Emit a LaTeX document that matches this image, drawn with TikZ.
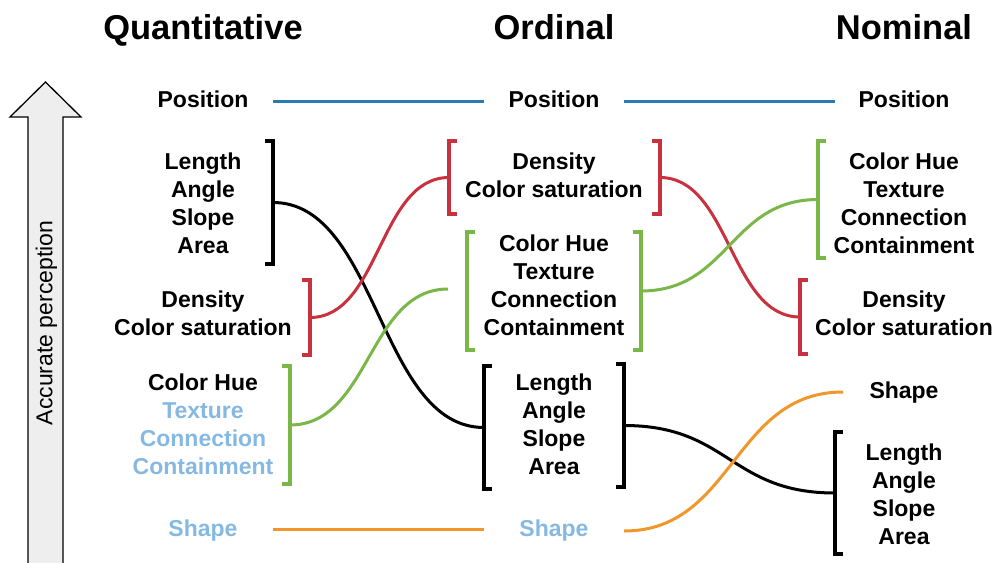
\documentclass[tikz,border=0pt]{standalone}
\usepackage{fontspec}
\setmainfont{Liberation Sans}
\definecolor{cred}{HTML}{C8313E}
\definecolor{cgreen}{HTML}{7AB648}
\definecolor{corange}{HTML}{F0962B}
\definecolor{cblue}{HTML}{2B7AB2}
\definecolor{clight}{HTML}{86B9E2}
\definecolor{arrfill}{HTML}{EEEEEE}
\newcommand\rbrk[4]{\draw[brk,#1] ({#2-8},#3) -- (#2,#3) -- (#2,#4) -- ({#2-8},#4);}
\newcommand\lbrk[4]{\draw[brk,#1] ({#2+8},#3) -- (#2,#3) -- (#2,#4) -- ({#2+8},#4);}
\tikzset{
  lbl/.style={font=\bfseries\fontsize{23}{28}\selectfont, align=center, inner sep=0pt, text depth=0pt},
  ttl/.style={font=\bfseries\fontsize{34.5}{40}\selectfont, inner sep=0pt, text depth=0pt},
  link/.style={line width=3pt},
  brk/.style={line width=3.2pt, line join=miter},
}
\begin{document}
\begin{tikzpicture}[x=1pt,y=-1pt]
\useasboundingbox (0,0) rectangle (998,562);

% arrow
\draw[line width=1.3pt, fill=arrfill] (28,575) -- (28,117) -- (10,117) -- (45.5,82) -- (81,117) -- (63,117) -- (63,575);
\node[rotate=90, font=\fontsize{23}{28}\selectfont, inner sep=0pt, text depth=0pt] (acc) at (44,323) {Accurate perception};

% titles
\node[ttl] (tq) at (203,27) {Quantitative};
\node[ttl] (to) at (554,27) {Ordinal};
\node[ttl] (tn) at (904,27) {Nominal};

% quantitative column
\node[lbl] (q0) at (203,99) {Position};
\node[lbl] (q1) at (203,203) {Length\\Angle\\Slope\\Area};
\node[lbl] (q2) at (203,313) {Density\\Color saturation};
\node[lbl] (q3) at (203,424) {Color Hue\\\textcolor{clight}{Texture}\\\textcolor{clight}{Connection}\\\textcolor{clight}{Containment}};
\node[lbl, text=clight] (q4) at (203,528) {Shape};

% ordinal column
\node[lbl] (o0) at (554,99) {Position};
\node[lbl] (o1) at (554,175) {Density\\Color saturation};
\node[lbl] (o2) at (554,285) {Color Hue\\Texture\\Connection\\Containment};
\node[lbl] (o3) at (554,424) {Length\\Angle\\Slope\\Area};
\node[lbl, text=clight] (o4) at (554,528) {Shape};

% nominal column
\node[lbl] (n0) at (904,99) {Position};
\node[lbl] (n1) at (904,203) {Color Hue\\Texture\\Connection\\Containment};
\node[lbl] (n2) at (904,313) {Density\\Color saturation};
\node[lbl] (n3) at (904,390) {Shape};
\node[lbl] (n4) at (904,494) {Length\\Angle\\Slope\\Area};

% brackets
\rbrk{black}{273}{141}{264}
\rbrk{cred}{310}{280}{355}
\rbrk{cgreen}{290}{366}{484}
\lbrk{cred}{449}{141}{214}
\rbrk{cred}{660}{141}{214}
\lbrk{cgreen}{467}{232}{350}
\rbrk{cgreen}{641}{232}{350}
\lbrk{black}{484}{366}{489}
\rbrk{black}{624}{364}{487}
\lbrk{cgreen}{818}{141}{258}
\lbrk{cred}{800}{280}{354}
\lbrk{black}{835}{432}{554}

% connector end points
\coordinate (qa) at (273,202.5);
\coordinate (qb) at (310,317.5);
\coordinate (qc) at (290,425);
\coordinate (oa) at (449,177.5);
\coordinate (ob) at (448,289);
\coordinate (oc) at (484,427.5);
\coordinate (od) at (660,177.5);
\coordinate (oe) at (641,291);
\coordinate (of) at (624,425.5);
\coordinate (na) at (818,199.5);
\coordinate (nb) at (800,317);
\coordinate (nc) at (835,493);
\coordinate (p1) at (273,101);
\coordinate (p2) at (484,101);
\coordinate (p3) at (624,101);
\coordinate (p4) at (835,101);
\coordinate (s1) at (273,529);
\coordinate (s2) at (484,529);
\coordinate (s3) at (624,531);
\coordinate (s4) at (843,392);

% connectors
\draw[link,cblue] (p1) -- (p2);
\draw[link,cblue] (p3) -- (p4);
\draw[link,corange] (s1) -- (s2);
\draw[link,black] (qa) .. controls +(105,0) and +(-105,0) .. (oc);
\draw[link,cred] (qb) .. controls +(70,0) and +(-70,0) .. (oa);
\draw[link,cgreen] (qc) .. controls +(80,0) and +(-80,0) .. (ob);
\draw[link,cred] (od) .. controls +(70,0) and +(-70,0) .. (nb);
\draw[link,cgreen] (oe) .. controls +(88,0) and +(-88,0) .. (na);
\draw[link,black] (of) .. controls +(105,0) and +(-105,0) .. (nc);
\draw[link,corange] (s3) .. controls +(110,0) and +(-110,0) .. (s4);
\end{tikzpicture}
\end{document}
